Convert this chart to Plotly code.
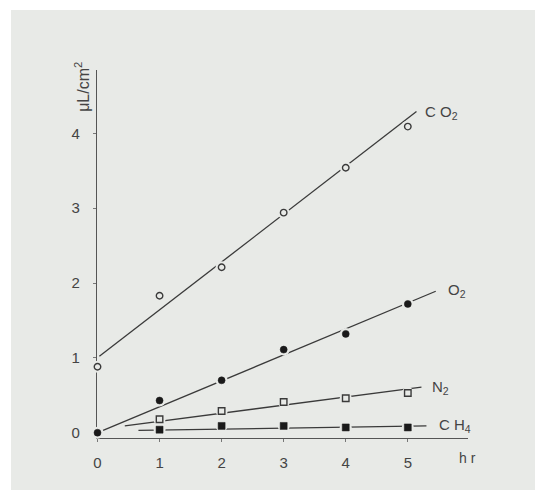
import plotly.graph_objects as go

# ---- data ----
hours = [0, 1, 2, 3, 4, 5]
co2 = [0.88, 1.83, 2.21, 2.94, 3.54, 4.09]
o2 = [0.0, 0.43, 0.70, 1.11, 1.32, 1.72]
n2_hours = [1, 2, 3, 4, 5]
n2 = [0.18, 0.29, 0.41, 0.46, 0.53]
ch4_hours = [1, 2, 3, 4, 5]
ch4 = [0.04, 0.09, 0.09, 0.07, 0.07]

# fitted lines (end points)
co2_fit_x = [0.03, 5.14]
co2_fit_y = [1.02, 4.29]
o2_fit_x = [0.09, 5.45]
o2_fit_y = [0.03, 1.89]
n2_fit_x = [0.44, 5.22]
n2_fit_y = [0.09, 0.61]
ch4_fit_x = [0.66, 5.30]
ch4_fit_y = [0.03, 0.09]

label_text = ["C O<sub>2</sub>", "O<sub>2</sub>", "N<sub>2</sub>", "C H<sub>4</sub>"]
label_x = [5.25, 5.62, 5.36, 5.47]
label_y = [4.28, 1.90, 0.60, 0.09]

x_ticks = [0, 1, 2, 3, 4, 5]
y_ticks = [0, 1, 2, 3, 4]

BG = "#e8eae7"
INK = "#3a3a3a"
TXT = "#444444"
FONT = "Liberation Sans, Arial, sans-serif"

fig = go.Figure()

series = [
    (co2_fit_x, co2_fit_y, hours, co2, "circle-open"),
    (o2_fit_x, o2_fit_y, hours, o2, "circle"),
    (n2_fit_x, n2_fit_y, n2_hours, n2, "square-open"),
    (ch4_fit_x, ch4_fit_y, ch4_hours, ch4, "square"),
]

for fx, fy, px, py, sym in series:
    fig.add_trace(go.Scatter(x=fx, y=fy, mode="lines",
                             line=dict(color=INK, width=1.3),
                             hoverinfo="skip", showlegend=False, cliponaxis=False))
for fx, fy, px, py, sym in series:
    # background halo to break the line around each marker
    fig.add_trace(go.Scatter(x=px, y=py, mode="markers",
                             marker=dict(symbol="circle", size=12, color=BG,
                                         line=dict(width=0)),
                             hoverinfo="skip", showlegend=False, cliponaxis=False))
for fx, fy, px, py, sym in series:
    if sym.endswith("open"):
        mk = dict(symbol=sym.replace("-open", ""), size=6.5, color=BG,
                  line=dict(color=INK, width=1.4))
    else:
        mk = dict(symbol=sym, size=7, color="#1a1a1a",
                  line=dict(color="#1a1a1a", width=0.5))
    fig.add_trace(go.Scatter(x=px, y=py, mode="markers", marker=mk,
                             showlegend=False, cliponaxis=False))

annotations = []
for t, lx, ly in zip(label_text, label_x, label_y):
    annotations.append(dict(x=lx, y=ly, xref="x", yref="y", text=t,
                            showarrow=False, xanchor="left", yanchor="middle",
                            font=dict(family=FONT, size=15, color=TXT)))
annotations.append(dict(x=0.9696, y=-0.055, xref="paper", yref="paper",
                        text="h r", showarrow=False, xanchor="left",
                        yanchor="middle",
                        font=dict(family=FONT, size=14, color=TXT)))
annotations.append(dict(x=-0.04, y=0.9546, xref="paper", yref="paper",
                        text="μL/cm<sup>2</sup>", showarrow=False,
                        textangle=-90, xanchor="center", yanchor="middle",
                        font=dict(family=FONT, size=16, color=TXT)))

# page body adds an 8px offset; the figure is sized to fit the window
fig.update_layout(
    width=535, height=482,
    margin=dict(l=89, r=75, t=62, b=52),
    paper_bgcolor="white",
    plot_bgcolor="rgba(0,0,0,0)",
    showlegend=False,
    annotations=annotations,
    shapes=[dict(type="rect", xref="paper", yref="paper",
                 x0=-0.2318, x1=1.1887, y0=-0.16, y1=1.163,
                 fillcolor=BG, line=dict(width=0), layer="below")],
    xaxis=dict(range=[-0.008, 5.97], tickvals=x_ticks,
               ticktext=[str(v) for v in x_ticks],
               showgrid=False, zeroline=False, showline=True,
               linecolor="#555555", linewidth=1.3,
               ticks="outside", ticklen=3, tickcolor="#777777", tickwidth=1,
               ticklabelstandoff=8, layer="below traces",
               tickfont=dict(family=FONT, size=15, color=TXT)),
    yaxis=dict(range=[-0.071, 4.846], tickvals=y_ticks,
               ticktext=[str(v) for v in y_ticks],
               showgrid=False, zeroline=False, showline=True,
               linecolor="#555555", linewidth=1.3,
               ticks="outside", ticklen=3, tickcolor="#777777", tickwidth=1,
               ticklabelstandoff=10, layer="below traces",
               tickfont=dict(family=FONT, size=15, color=TXT)),
)

fig.write_html("out.html")
